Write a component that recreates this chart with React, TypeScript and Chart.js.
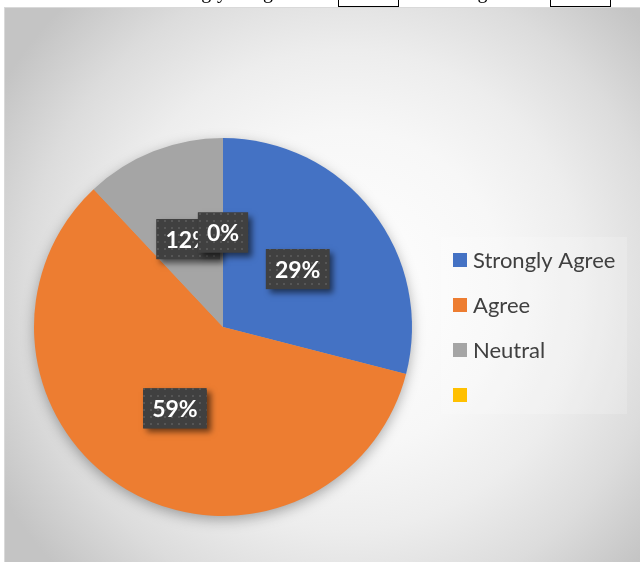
import React, { useEffect, useRef } from "react";
import { Chart, registerables } from "chart.js";

Chart.register(...registerables);

const categories = ["Strongly Agree", "Agree", "Neutral", ""];
const values = [29, 59, 12, 0];
const colors = ["#4472C4", "#ED7D31", "#A5A5A5", "#FFC000"];

const LABEL_FONT = "bold 23px Lato";
const LEGEND_FONT = "22px Lato";

function makePattern(ctx: CanvasRenderingContext2D) {
  const c = document.createElement("canvas");
  c.width = 7;
  c.height = 7;
  const p = c.getContext("2d")!;
  p.fillStyle = "#404040";
  p.fillRect(0, 0, 7, 7);
  p.fillStyle = "#565656";
  p.fillRect(3, 3, 2, 2);
  return ctx.createPattern(c, "repeat");
}

const bgPlugin = {
  id: "bgPlugin",
  beforeDraw(chart: any) {
    const ctx = chart.ctx as CanvasRenderingContext2D;
    ctx.save();
    const g = ctx.createRadialGradient(345, 290, 0, 345, 290, 400);
    g.addColorStop(0, "#ffffff");
    g.addColorStop(0.4, "#f7f7f7");
    g.addColorStop(0.6, "#ededed");
    g.addColorStop(0.8, "#dcdcdc");
    g.addColorStop(1, "#c4c4c4");
    ctx.fillStyle = g;
    ctx.fillRect(4, 7, 640, 560);
    ctx.strokeStyle = "#d9d9d9";
    ctx.lineWidth = 1;
    ctx.strokeRect(4.5, 7.5, 640, 560);
    ctx.restore();
  },
  beforeDatasetsDraw(chart: any) {
    const ctx = chart.ctx as CanvasRenderingContext2D;
    const arc = chart.getDatasetMeta(0).data[0];
    if (!arc) return;
    const { x, y, outerRadius } = arc.getProps(["x", "y", "outerRadius"], true);
    ctx.save();
    ctx.shadowColor = "rgba(0,0,0,0.35)";
    ctx.shadowBlur = 14;
    ctx.shadowOffsetY = 4;
    ctx.fillStyle = "#aaaaaa";
    ctx.beginPath();
    ctx.arc(x, y, outerRadius - 1, 0, Math.PI * 2);
    ctx.fill();
    ctx.restore();
  },
  afterDatasetsDraw(chart: any) {
    const ctx = chart.ctx as CanvasRenderingContext2D;
    const data = chart.data.datasets[0].data as number[];
    const total = data.reduce((a, b) => a + b, 0);
    const pattern = makePattern(ctx);
    chart.getDatasetMeta(0).data.forEach((el: any, i: number) => {
      const { x, y, startAngle, endAngle, outerRadius } = el.getProps(
        ["x", "y", "startAngle", "endAngle", "outerRadius"],
        true
      );
      const mid = (startAngle + endAngle) / 2;
      const cx = x + Math.cos(mid) * outerRadius * 0.5;
      const cy = y + Math.sin(mid) * outerRadius * 0.5;
      const txt = Math.round((data[i] / total) * 100) + "%";
      ctx.save();
      ctx.font = LABEL_FONT;
      const w = ctx.measureText(txt).width + 18;
      const h = 40;
      ctx.shadowColor = "rgba(0,0,0,0.55)";
      ctx.shadowBlur = 6;
      ctx.shadowOffsetX = 4;
      ctx.shadowOffsetY = 4;
      ctx.fillStyle = "#404040";
      ctx.fillRect(cx - w / 2, cy - h / 2, w, h);
      ctx.shadowColor = "transparent";
      if (pattern) {
        ctx.fillStyle = pattern;
        ctx.fillRect(cx - w / 2, cy - h / 2, w, h);
      }
      ctx.fillStyle = "#ffffff";
      ctx.textAlign = "center";
      ctx.textBaseline = "middle";
      ctx.fillText(txt, cx, cy + 1);
      ctx.restore();
    });
  },
  afterDraw(chart: any) {
    const ctx = chart.ctx as CanvasRenderingContext2D;
    const labels = chart.data.labels as string[];
    const bg = chart.data.datasets[0].backgroundColor as string[];
    ctx.save();
    ctx.fillStyle = "rgba(255,255,255,0.18)";
    ctx.fillRect(441, 237, 186, 177);
    ctx.font = LEGEND_FONT;
    ctx.textBaseline = "middle";
    labels.forEach((lab, i) => {
      const cy = 260 + i * 45;
      ctx.fillStyle = bg[i];
      ctx.fillRect(453, cy - 7, 14, 14);
      ctx.fillStyle = "#404040";
      ctx.fillText(lab, 473, cy + 1);
    });
    ctx.restore();
  },
};

export default function App() {
  const ref = useRef<HTMLCanvasElement>(null);
  useEffect(() => {
    const chart = new Chart(ref.current!, {
      type: "pie",
      data: {
        labels: categories,
        datasets: [
          {
            data: values,
            backgroundColor: colors,
            borderWidth: 0,
          },
        ],
      },
      options: {
        responsive: false,
        animation: false,
        layout: { padding: { left: 34, right: 228, top: 138, bottom: 46 } },
        plugins: { legend: { display: false }, tooltip: { enabled: false } },
      },
      plugins: [bgPlugin],
    });
    return () => chart.destroy();
  }, []);

  const serif: React.CSSProperties = {
    position: "absolute",
    top: -19,
    fontFamily: "'Liberation Serif', 'Times New Roman', serif",
    fontSize: 20,
    lineHeight: "20px",
    whiteSpace: "nowrap",
    color: "#000",
  };
  const box: React.CSSProperties = {
    position: "absolute",
    top: -20,
    width: 59,
    height: 25,
    border: "1px solid #000",
  };

  return (
    <div
      style={{
        position: "fixed",
        left: 0,
        top: 0,
        width: 640,
        height: 562,
        overflow: "hidden",
        background: "#fff",
      }}
    >
      <canvas ref={ref} width={640} height={562} style={{ display: "block" }} />
      <div
        style={{
          position: "absolute",
          left: 0,
          top: 0,
          width: 640,
          height: 7,
          overflow: "hidden",
        }}
      >
        <span style={{ ...serif, left: 158 }}>Strongly</span>
        <span style={{ ...serif, left: 254 }}>agree</span>
        <div style={{ ...box, left: 338 }} />
        <span style={{ ...serif, left: 463 }}>Agree</span>
        <div style={{ ...box, left: 550 }} />
      </div>
    </div>
  );
}
